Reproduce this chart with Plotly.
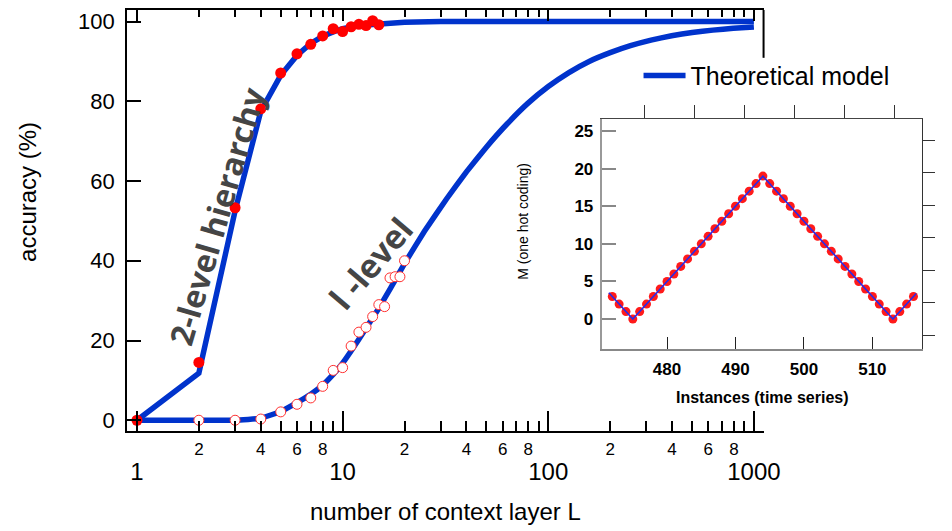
import plotly.graph_objects as go

# ---------------- main chart data ----------------
L_model2 = [1, 2, 3, 4, 5, 6, 7, 8, 9, 10, 12, 15, 20, 30, 50, 100, 1000]
acc_model2 = [0, 11.8, 52.5, 77.5, 86.5, 91.5, 94.5, 96.3, 97.4, 98.2, 99.0, 99.5, 99.8, 100, 100, 100, 100]

L_model1 = [1, 2, 3, 4, 5, 6, 7, 8, 9, 10, 12, 15, 17, 20, 25, 32, 40, 50, 63, 79,
            100, 126, 158, 200, 251, 316, 398, 501, 631, 794, 1000]
acc_model1 = [0, 0, 0, 0.5, 2.2, 4.4, 6.5, 8.8, 11.5, 14.3, 20.3, 28.1, 32.9, 39.3, 47.4, 55.5, 62.3, 68.5, 74.3, 79.35,
              83.7, 87.2, 90.0, 92.2, 93.95, 95.35, 96.45, 97.25, 97.85, 98.3, 98.65]

L_two = [1, 2, 3, 4, 5, 6, 7, 8, 9, 10, 11, 12, 13, 14, 15]
acc_two = [0, 14.5, 53.3, 78.1, 87.1, 91.9, 94.3, 96.4, 98.2, 97.5, 98.7, 99.3, 99.0, 100.2, 99.2]

L_one = [2, 3, 4, 5, 6, 7, 8, 9, 10, 11, 12, 13, 14, 15, 16, 17, 18, 19, 20]
acc_one = [0, 0, 0.3, 2.1, 4.0, 5.6, 8.5, 12.5, 13.2, 18.6, 22.1, 23.3, 26.0, 29.0, 28.5, 35.7, 36.0, 36.0, 40.0]

y_ticks = [0, 20, 40, 60, 80, 100]
x_major = [1, 10, 100, 1000]
x_major_text = ["1", "10", "100", "1000"]
x_minor = [2, 3, 4, 5, 6, 7, 8, 9, 20, 30, 40, 50, 60, 70, 80, 90,
           200, 300, 400, 500, 600, 700, 800, 900]
x_minor_text = ["2", "", "4", "", "6", "", "8", "", "2", "", "4", "", "6", "", "8", "",
                "2", "", "4", "", "6", "", "8", ""]

# ---------------- inset data ----------------
inst = [472, 473, 474, 475, 476, 477, 478, 479, 480, 481, 482, 483, 484, 485, 486,
        487, 488, 489, 490, 491, 492, 493, 494, 495, 496, 497, 498, 499, 500, 501,
        502, 503, 504, 505, 506, 507, 508, 509, 510, 511, 512, 513, 514, 515, 516]
m_val = [3, 2, 1, 0, 1, 2, 3, 4, 5, 6, 7, 8, 9, 10, 11,
         12, 13, 14, 15, 16, 17, 18, 19, 18, 17, 16, 15, 14, 13, 12,
         11, 10, 9, 8, 7, 6, 5, 4, 3, 2, 1, 0, 1, 2, 3]
inst_line = [471.5, 475, 494, 513, 516.4]
m_line = [3.5, 0, 19, 0, 3.4]
inset_xticks = [480, 490, 500, 510]
inset_yticks = [0, 5, 10, 15, 20, 25]

SANS = "Liberation Sans, Arial, sans-serif"
BLUE = "#0033cc"

# the page keeps the browser's 8px body margin; positions below are given in
# window pixels and converted to paper fractions of the 952x531 figure
OFF = 8
W, H = 952, 531
def px(x):
    return (x - OFF) / W
def py(y):
    return 1 - (y - OFF) / H

fig = go.Figure()

fig.add_trace(go.Scatter(x=L_model2, y=acc_model2, mode="lines", name="Theoretical model",
                         line=dict(color=BLUE, width=5.5), xaxis="x", yaxis="y"))
fig.add_trace(go.Scatter(x=L_model1, y=acc_model1, mode="lines", showlegend=False,
                         line=dict(color=BLUE, width=5.5, shape="spline", smoothing=0.3),
                         xaxis="x", yaxis="y"))
fig.add_trace(go.Scatter(x=L_two, y=acc_two, mode="markers", showlegend=False,
                         marker=dict(color="#ff0000", size=11, line=dict(width=0)),
                         xaxis="x2", yaxis="y"))
fig.add_trace(go.Scatter(x=L_one, y=acc_one, mode="markers", showlegend=False,
                         marker=dict(color="white", size=10, line=dict(color="#ff3030", width=1)),
                         xaxis="x3", yaxis="y"))

# inset
fig.add_trace(go.Scatter(x=inst, y=m_val, mode="markers", showlegend=False,
                         marker=dict(color="#ff1a1a", size=9, line=dict(width=0)),
                         xaxis="x4", yaxis="y4"))
fig.add_trace(go.Scatter(x=inst_line, y=m_line, mode="lines", showlegend=False,
                         line=dict(color="#2a2ae6", width=1.6),
                         xaxis="x4", yaxis="y4"))
# empty traces so that the decorative frame axes of the inset are drawn
fig.add_trace(go.Scatter(x=[], y=[], mode="lines", showlegend=False, hoverinfo="skip",
                         xaxis="x5", yaxis="y4"))
fig.add_trace(go.Scatter(x=[], y=[], mode="lines", showlegend=False, hoverinfo="skip",
                         xaxis="x4", yaxis="y5"))

xlog_range = [-0.0478, 3.047]
main_xdom = [px(129.3), px(777.3)]
main_ydom = [py(432), py(9)]

in_xdom = [px(613.3), px(938.3)]
in_ydom = [py(349.3), py(118.3)]

fig.update_layout(
    width=W, height=H,
    margin=dict(l=0, r=0, t=0, b=0),
    paper_bgcolor="white", plot_bgcolor="white",
    showlegend=True,
    legend=dict(x=px(650), y=py(75), xanchor="left", yanchor="middle",
                bgcolor="rgba(0,0,0,0)", font=dict(family=SANS, size=25, color="black"),
                itemwidth=42, tracegroupgap=0),
    xaxis=dict(type="log", domain=main_xdom, range=xlog_range, anchor="y",
               tickmode="array", tickvals=x_minor, ticktext=x_minor_text,
               ticks="inside", ticklen=10, tickwidth=2, tickcolor="black",
               showline=True, linecolor="black", linewidth=2, showgrid=False, zeroline=False,
               tickfont=dict(family=SANS, size=17, color="black"), ticklabelstandoff=1),
    xaxis2=dict(type="log", domain=main_xdom, range=xlog_range, anchor="y", overlaying="x",
                side="bottom", tickmode="array", tickvals=x_major, ticktext=x_major_text,
                ticks="inside", ticklen=20, tickwidth=2, tickcolor="black",
                showline=False, showgrid=False, zeroline=False,
                tickfont=dict(family=SANS, size=24, color="black"), ticklabelstandoff=24),
    xaxis3=dict(type="log", domain=main_xdom, range=xlog_range, anchor="y", overlaying="x",
                side="top", tickmode="array", tickvals=x_major, showticklabels=False,
                ticks="inside", ticklen=11, tickwidth=2, tickcolor="black",
                minor=dict(tickmode="array", tickvals=x_minor, ticks="inside", ticklen=7,
                           tickwidth=2, tickcolor="black"),
                showline=True, linecolor="black", linewidth=2, showgrid=False, zeroline=False),
    yaxis=dict(domain=main_ydom, range=[-2.8, 102.9], anchor="x",
               tickmode="array", tickvals=y_ticks,
               ticks="inside", ticklen=14, tickwidth=2, tickcolor="black",
               showline=True, linecolor="black", linewidth=2, showgrid=False, zeroline=False,
               tickfont=dict(family=SANS, size=22, color="black"), ticklabelstandoff=6),
    # inset axes
    xaxis4=dict(domain=in_xdom, range=[470.57, 517.2], anchor="y4",
                tickmode="array", tickvals=inset_xticks,
                ticks="inside", ticklen=12, tickwidth=1, tickcolor="#222",
                showline=True, linecolor="#888", linewidth=1.5, showgrid=False, zeroline=False,
                tickfont=dict(family=SANS, size=17, color="black", weight="bold"),
                ticklabelstandoff=4),
    xaxis5=dict(domain=in_xdom, range=[-0.831, 5.541], anchor="y4", overlaying="x4",
                side="top", tickmode="array", tickvals=[0, 1, 2, 3, 4, 5], showticklabels=False,
                ticks="outside", ticklen=13, tickwidth=1, tickcolor="#333",
                showline=True, linecolor="#444", linewidth=1, showgrid=False, zeroline=False),
    yaxis4=dict(domain=in_ydom, range=[-3.97, 26.6], anchor="x4",
                tickmode="array", tickvals=inset_yticks,
                ticks="inside", ticklen=14, tickwidth=1.5, tickcolor="#888",
                showline=True, linecolor="#999", linewidth=1.5, showgrid=False, zeroline=False,
                tickfont=dict(family=SANS, size=17, color="black", weight="bold"),
                ticklabelstandoff=4),
    yaxis5=dict(domain=in_ydom, range=[-0.416, 6.65], anchor="x4", overlaying="y4",
                side="right", tickmode="array", tickvals=[0, 1, 2, 3, 4, 5, 6], showticklabels=False,
                ticks="outside", ticklen=12, tickwidth=1, tickcolor="#333",
                showline=True, linecolor="#333", linewidth=1, showgrid=False, zeroline=False),
)

annotations = [
    dict(text="number of context layer L", x=px(453), y=py(512), xref="paper", yref="paper",
         showarrow=False, font=dict(family=SANS, size=24, color="black"),
         xanchor="center", yanchor="middle"),
    dict(text="accuracy (%)", x=px(28), y=py(192), xref="paper", yref="paper",
         showarrow=False, textangle=-90, font=dict(family=SANS, size=24, color="black"),
         xanchor="center", yanchor="middle"),
    dict(text="2-level hierarchy", x=0.3854, y=51.2, xref="x", yref="y", showarrow=False,
         textangle=-73.7, font=dict(family="Open Sans", size=32, color="#454545", weight="bold"),
         xanchor="center", yanchor="middle"),
    dict(text="l -level", x=1.135, y=39.4, xref="x", yref="y", showarrow=False,
         textangle=-49.6, font=dict(family="Open Sans", size=33, color="#454545", weight="bold"),
         xanchor="center", yanchor="middle"),
    dict(text="Instances (time series)", x=px(776), y=py(398), xref="paper", yref="paper",
         showarrow=False, font=dict(family=SANS, size=16, color="black", weight="bold"),
         xanchor="center", yanchor="middle"),
    dict(text="M (one hot coding)", x=px(533), y=py(221), xref="paper", yref="paper",
         showarrow=False, textangle=-90, font=dict(family=SANS, size=14, color="black"),
         xanchor="center", yanchor="middle"),
]
fig.update_layout(annotations=annotations)

fig.add_shape(type="line", xref="x domain", yref="y domain", x0=1, x1=1, y0=0.8865, y1=1,
              line=dict(color="black", width=2))

fig.write_html("out.html", config={"displayModeBar": False})
